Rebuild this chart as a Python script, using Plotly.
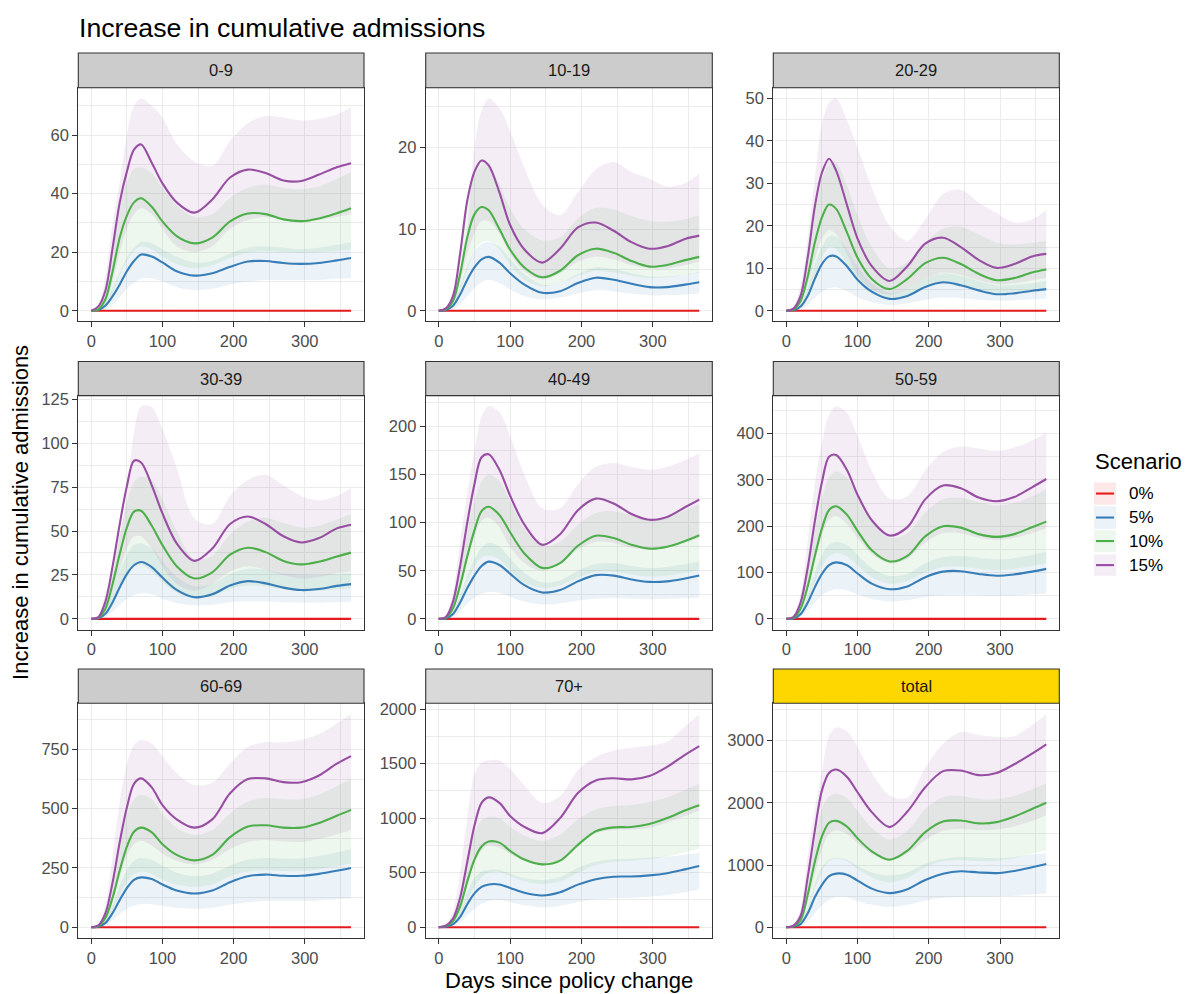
import plotly.graph_objects as go

# ---------------------------------------------------------------------------
# Data: increase in cumulative admissions by age group and scenario
# (median line plus lower / upper interval), sampled at these days
# ---------------------------------------------------------------------------
days = [0, 10, 20, 30, 40, 50, 60, 70, 85, 100, 120, 145, 170, 195, 220, 245, 270, 295, 320, 345, 365]

scenarios = ["0%", "5%", "10%", "15%"]
age_groups = ["0-9", "10-19", "20-29", "30-39", "40-49", "50-59", "60-69", "70+", "total"]

baseline_0pct = [0, 0, 0, 0, 0, 0, 0, 0, 0, 0, 0, 0, 0, 0, 0, 0, 0, 0, 0, 0, 0]

mid_0_9 = {
    "5%":  [0, 0.3, 1.8, 5, 9, 13.5, 17, 19.2, 18.5, 16.5, 13.5, 12, 12.8, 15, 16.8, 17, 16.3, 16, 16.3, 17.2, 18],
    "10%": [0, 0.5, 4, 13.5, 25, 32.5, 37, 38.4, 35.5, 30.5, 25.5, 23, 25, 30.5, 33.2, 33, 31.2, 30.6, 31.5, 33.3, 35],
    "15%": [0, 1.5, 7, 21.5, 37, 47.5, 55, 56.8, 50.5, 43.5, 37, 33.5, 38, 45.5, 48.2, 47, 44.5, 44.3, 46.5, 49, 50.4],
}
lo_0_9 = {
    "5%":  [0, 0, 0.5, 2, 4.5, 7.5, 9.5, 11, 11, 10, 8, 7, 7.5, 9, 10, 10.5, 10.5, 10.5, 10.5, 11, 11],
    "10%": [0, 0, 1.8, 6, 12, 17, 20.5, 22, 21, 18.5, 16, 14.5, 15.5, 18, 19.8, 20.3, 20, 19.8, 20, 20.5, 21],
    "15%": [0, 1, 3, 10, 20, 28, 33, 35, 33, 28, 22, 20, 22, 28, 31, 32, 31, 30, 31, 32, 33],
}
hi_0_9 = {
    "5%":  [0, 0.5, 3, 8, 13, 18, 21.5, 23.5, 23, 21, 18.5, 16.5, 17, 19.5, 21.5, 22, 21.5, 21, 21.5, 22.5, 23.5],
    "10%": [0, 1, 6, 20, 35, 44, 48.5, 49, 47, 42, 36, 32, 33, 38.5, 42, 43, 42, 41.5, 42.5, 45, 47.5],
    "15%": [0, 2, 12, 30, 44, 60, 70, 72.5, 70, 66, 57, 51, 49.5, 58, 64, 66.5, 66, 65, 65.5, 67, 69.5],
}

mid_10_19 = {
    "5%":  [0, 0.1, 0.6, 2, 3.8, 5.3, 6.3, 6.6, 5.9, 4.6, 3.2, 2.2, 2.4, 3.4, 4.05, 3.8, 3.3, 2.9, 2.9, 3.2, 3.5],
    "10%": [0, 0.2, 1.2, 4.5, 9, 11.8, 12.7, 12.3, 10, 7.5, 5.3, 4.1, 4.9, 6.8, 7.6, 7.1, 6.1, 5.4, 5.6, 6.2, 6.6],
    "15%": [0, 0.3, 1.8, 7, 13.5, 17, 18.4, 17.8, 14.5, 10.5, 7.5, 5.9, 7.6, 10.2, 10.8, 9.8, 8.4, 7.6, 7.9, 8.8, 9.2],
}
lo_10_19 = {
    "5%":  [0, 0, 0.2, 0.8, 1.8, 2.8, 3.5, 3.8, 3.4, 2.6, 1.8, 1.4, 1.6, 2.1, 2.5, 2.4, 2.1, 1.9, 1.9, 2, 2.1],
    "10%": [0, 0, 0.6, 2.5, 5, 7.3, 8.4, 8.5, 7.5, 5.6, 3.8, 3, 3.4, 4.3, 4.9, 4.7, 4.3, 4, 4.1, 4.4, 4.7],
    "15%": [0, 0, 0.8, 3.5, 7, 9.5, 11, 11, 9.5, 7, 4.8, 3.8, 4.6, 6, 6.6, 6.3, 5.6, 5.2, 5.2, 5.6, 6],
}
hi_10_19 = {
    "5%":  [0, 0.2, 1, 3, 5.5, 7.3, 8.2, 8.4, 7.8, 6.3, 4.5, 3.2, 3.4, 4.5, 5.3, 5.1, 4.6, 4.2, 4.2, 4.4, 4.8],
    "10%": [0, 0.3, 2, 7, 13, 16.5, 17.8, 17.9, 15.5, 12.5, 10, 8.6, 9, 11.3, 12.6, 12.4, 11.6, 11, 10.9, 11.2, 11.7],
    "15%": [0, 0.5, 2.5, 4.5, 10, 20, 24.5, 26, 24.8, 22, 17.5, 13, 11.7, 14.5, 17.3, 18.2, 17, 16.2, 15.2, 15.6, 16.8],
}

mid_20_29 = {
    "5%":  [0, 0.1, 1, 3.5, 7.5, 11, 12.8, 12.8, 10.5, 7.3, 4.5, 2.8, 3.5, 5.6, 6.7, 6.0, 4.8, 3.9, 4.1, 4.7, 5.1],
    "10%": [0, 0.3, 2.3, 8, 16, 22, 25, 24, 18.5, 12.5, 7.5, 5.1, 7.5, 11.2, 12.5, 11, 8.7, 7.2, 7.7, 9, 9.7],
    "15%": [0, 0.5, 3.5, 12.5, 24.5, 32.5, 35.8, 33, 25, 17, 10.5, 7, 10.5, 15.8, 17.2, 15, 12, 10.1, 11, 12.8, 13.4],
}
lo_20_29 = {
    "5%":  [0, 0, 0.3, 1.5, 3, 4.5, 5.3, 5.5, 4.6, 3.2, 2, 1.4, 1.7, 2.6, 3.1, 3, 2.6, 2.4, 2.5, 2.7, 2.9],
    "10%": [0, 0, 1, 3.5, 8, 12.5, 15, 14.5, 11, 7, 4, 2.8, 3.8, 5.6, 6.5, 6, 5, 4.3, 4.5, 5, 5.4],
    "15%": [0, 0, 1.5, 6, 12, 17, 19, 18, 13.5, 8.5, 5, 3.8, 5, 7.5, 9, 8.5, 7.2, 6.3, 6.5, 7.2, 7.7],
}
hi_20_29 = {
    "5%":  [0, 0.2, 1.5, 5.5, 11, 15, 17.5, 17.5, 14.5, 10.5, 6.5, 4.3, 5, 7.5, 8.8, 8.2, 7, 6, 6.1, 6.5, 7],
    "10%": [0, 0.5, 4, 12, 23, 31, 34.5, 34.8, 29.5, 22.5, 15, 10, 11.5, 16, 19.3, 19.8, 18, 16, 15.6, 16, 16.5],
    "15%": [0, 1, 6, 17, 31, 44, 49, 50, 45, 38.5, 29, 20, 16.5, 21.5, 27.5, 28.5, 25.5, 23, 20.8, 21.5, 23.8],
}

mid_30_39 = {
    "5%":  [0, 0.3, 3, 9.5, 18, 25.5, 30.5, 32.4, 29.5, 23.5, 16.5, 12.3, 14, 19, 21.5, 20.2, 17.8, 16.4, 17, 18.8, 19.8],
    "10%": [0, 0.6, 6, 20, 37, 52, 61, 61.5, 53, 42, 30, 23, 26.5, 36.5, 40.5, 38, 33, 31, 32.5, 35.5, 37.7],
    "15%": [0, 1, 10, 30, 54, 75.5, 90, 89, 76, 60, 43, 33, 40, 54, 58.3, 54, 47, 43.5, 46, 51.5, 53.6],
}
lo_30_39 = {
    "5%":  [0, 0, 1, 4, 8, 11.5, 13.5, 14.5, 14, 11.5, 9, 7.7, 8, 9.5, 10, 10, 9.5, 9.3, 9.3, 9.6, 9.8],
    "10%": [0, 0.2, 3, 10, 19, 26, 30, 30.5, 27, 21, 15, 12, 13, 17, 19, 18.5, 16.8, 15.8, 16, 17, 17.5],
    "15%": [0, 0.3, 4, 15, 28, 40, 47, 47, 40, 30, 20, 16, 20, 27, 30, 28, 25, 23, 24, 26, 27],
}
hi_30_39 = {
    "5%":  [0, 0.5, 5, 15, 27, 36, 42, 43, 40, 33, 24, 18.5, 20, 25.5, 28.5, 28, 26, 25, 25, 25.5, 26],
    "10%": [0, 1, 9, 27, 48, 66, 78, 81, 79, 68, 50, 34, 36, 48, 55.5, 57.5, 54.5, 52, 53, 56.5, 59.7],
    "15%": [0, 2, 15, 25, 48, 70, 106, 121, 120.5, 108, 86, 57, 54, 70, 79, 82, 76, 70, 67.5, 70, 74.5],
}

mid_40_49 = {
    "5%":  [0, 0.5, 5, 17, 32, 45, 55, 59.5, 56, 47, 35, 27.5, 30, 39, 45.5, 45, 41, 38.5, 39, 42, 45],
    "10%": [0, 1, 11, 35, 65, 92, 112, 116.5, 108, 90, 68, 53, 58, 76, 86.5, 84, 77, 73, 75, 81, 87],
    "15%": [0, 2, 18, 55, 100, 140, 168, 171, 155, 128, 98, 77, 88, 113, 125, 120, 109, 103, 106, 116, 124],
}
lo_40_49 = {
    "5%":  [0, 0.2, 2, 8, 16, 22, 26, 28, 27, 23, 18, 15, 16, 19, 21, 21.5, 21, 20.5, 21, 21.5, 22],
    "10%": [0, 0.5, 6, 20, 38, 54, 64, 66, 62, 50, 38, 32, 35, 43, 49, 49, 46, 44, 45, 48, 51],
    "15%": [0, 1, 10, 30, 60, 85, 102, 105, 95, 75, 58, 50, 58, 72, 80, 79, 74, 72, 74, 79, 84],
}
hi_40_49 = {
    "5%":  [0, 1, 8, 25, 45, 62, 74, 79, 75, 63, 48, 38, 40, 50, 57, 58, 55, 53, 54, 57, 60],
    "10%": [0, 2, 16, 50, 90, 122, 143, 150, 143, 122, 94, 76, 80, 98, 110, 112, 108, 104, 106, 113, 120],
    "15%": [0, 3, 28, 80, 130, 175, 210, 221, 215, 190, 150, 115, 115, 140, 158, 162, 158, 155, 158, 165, 172],
}

mid_50_59 = {
    "5%":  [0, 1, 10, 35, 68, 97, 116, 122, 116, 98, 76, 64, 70, 90, 102, 103, 97, 93, 96, 102, 108],
    "10%": [0, 2, 22, 70, 135, 195, 235, 243, 225, 190, 148, 124, 136, 178, 200, 197, 183, 177, 183, 198, 210],
    "15%": [0, 4, 35, 110, 210, 295, 350, 354, 322, 268, 213, 180, 198, 258, 288, 282, 262, 254, 263, 284, 302],
}
lo_50_59 = {
    "5%":  [0, 0.5, 5, 18, 35, 50, 60, 64, 62, 53, 43, 38, 40, 47, 51, 52, 51, 50, 51, 53, 55],
    "10%": [0, 1, 12, 40, 78, 113, 135, 142, 135, 115, 90, 76, 82, 100, 112, 113, 108, 105, 108, 114, 120],
    "15%": [0, 2, 20, 65, 125, 180, 215, 222, 205, 175, 140, 120, 130, 165, 185, 185, 175, 170, 175, 185, 195],
}
hi_50_59 = {
    "5%":  [0, 1.5, 16, 52, 100, 138, 160, 166, 160, 138, 110, 93, 97, 120, 133, 136, 132, 128, 131, 138, 145],
    "10%": [0, 3, 35, 105, 190, 260, 305, 318, 305, 265, 210, 175, 185, 230, 258, 262, 252, 245, 250, 265, 280],
    "15%": [0, 6, 55, 170, 290, 380, 440, 459, 445, 395, 320, 260, 265, 320, 360, 372, 368, 363, 370, 385, 402],
}

mid_60_69 = {
    "5%":  [0, 2, 18, 60, 115, 165, 200, 210, 203, 180, 155, 142, 155, 190, 215, 222, 217, 217, 225, 238, 250],
    "10%": [0, 5, 40, 125, 240, 340, 403, 420, 400, 350, 305, 282, 305, 380, 425, 430, 420, 420, 440, 470, 495],
    "15%": [0, 8, 60, 190, 360, 505, 605, 628, 590, 515, 455, 420, 455, 565, 625, 628, 612, 612, 640, 690, 722],
}
lo_60_69 = {
    "5%":  [0, 1, 8, 28, 55, 78, 92, 98, 97, 90, 82, 78, 82, 95, 105, 110, 110, 110, 113, 118, 122],
    "10%": [0, 3, 22, 70, 135, 190, 225, 235, 225, 200, 180, 170, 180, 215, 235, 240, 237, 237, 245, 258, 270],
    "15%": [0, 4, 35, 110, 210, 300, 350, 365, 345, 310, 280, 265, 285, 330, 360, 368, 362, 360, 372, 392, 410],
}
hi_60_69 = {
    "5%":  [0, 4, 30, 95, 175, 240, 280, 292, 285, 260, 230, 215, 225, 260, 285, 292, 290, 290, 300, 315, 330],
    "10%": [0, 7, 60, 190, 350, 475, 540, 558, 540, 480, 420, 390, 410, 480, 530, 545, 540, 540, 560, 595, 625],
    "15%": [0, 12, 95, 300, 530, 690, 770, 790, 775, 720, 650, 600, 610, 690, 760, 780, 780, 790, 815, 860, 900],
}

mid_70p = {
    "5%":  [0, 5, 28, 95, 210, 310, 370, 392, 392, 360, 315, 290, 320, 390, 440, 463, 465, 475, 495, 530, 560],
    "10%": [0, 10, 55, 190, 420, 620, 740, 785, 775, 700, 620, 576, 610, 755, 880, 915, 918, 945, 1000, 1070, 1117],
    "15%": [0, 15, 80, 270, 600, 930, 1140, 1190, 1140, 1020, 920, 862, 1000, 1230, 1345, 1365, 1355, 1385, 1470, 1580, 1660],
}
lo_70p = {
    "5%":  [0, 2, 12, 45, 110, 170, 215, 240, 250, 230, 200, 182, 195, 230, 255, 265, 270, 280, 295, 320, 347],
    "10%": [0, 5, 30, 100, 240, 370, 460, 500, 505, 470, 420, 395, 420, 500, 570, 600, 610, 625, 650, 690, 720],
    "15%": [0, 8, 50, 170, 380, 580, 700, 750, 730, 670, 610, 580, 620, 760, 860, 890, 895, 910, 960, 1020, 1070],
}
hi_70p = {
    "5%":  [0, 7, 45, 150, 320, 450, 510, 525, 525, 490, 450, 432, 460, 545, 600, 620, 628, 638, 648, 665, 680],
    "10%": [0, 13, 80, 280, 600, 870, 980, 1010, 1000, 920, 840, 790, 850, 990, 1080, 1110, 1120, 1150, 1190, 1260, 1315],
    "15%": [0, 20, 150, 500, 1000, 1400, 1510, 1530, 1530, 1450, 1300, 1140, 1200, 1440, 1560, 1620, 1645, 1665, 1700, 1840, 1955],
}

mid_total = {
    "5%":  [0, 8, 50, 220, 480, 680, 820, 862, 845, 750, 620, 548, 610, 760, 860, 900, 880, 870, 905, 965, 1015],
    "10%": [0, 15, 110, 520, 1050, 1460, 1680, 1710, 1620, 1430, 1220, 1085, 1230, 1530, 1700, 1715, 1670, 1690, 1780, 1900, 2000],
    "15%": [0, 25, 180, 800, 1550, 2200, 2480, 2535, 2420, 2170, 1850, 1610, 1860, 2250, 2510, 2520, 2445, 2480, 2620, 2790, 2940],
}
lo_total = {
    "5%":  [0, 3, 20, 90, 220, 350, 440, 485, 480, 420, 360, 325, 360, 430, 470, 485, 490, 495, 505, 525, 545],
    "10%": [0, 8, 60, 280, 620, 900, 1060, 1100, 1060, 940, 800, 720, 790, 960, 1060, 1080, 1060, 1070, 1110, 1180, 1240],
    "15%": [0, 12, 90, 400, 850, 1250, 1500, 1560, 1500, 1350, 1180, 1080, 1180, 1400, 1550, 1580, 1560, 1570, 1620, 1710, 1800],
}
hi_total = {
    "5%":  [0, 12, 80, 330, 700, 960, 1090, 1115, 1090, 990, 880, 830, 880, 1020, 1100, 1130, 1120, 1110, 1130, 1170, 1190],
    "10%": [0, 20, 160, 700, 1400, 1900, 2100, 2150, 2080, 1870, 1600, 1410, 1550, 1900, 2090, 2110, 2060, 2060, 2110, 2220, 2310],
    "15%": [0, 40, 300, 1150, 1900, 2500, 3080, 3210, 3150, 2900, 2480, 2120, 2080, 2560, 2950, 3140, 3090, 3060, 3070, 3250, 3430],
}

panel_data = {
    "0-9": (mid_0_9, lo_0_9, hi_0_9),
    "10-19": (mid_10_19, lo_10_19, hi_10_19),
    "20-29": (mid_20_29, lo_20_29, hi_20_29),
    "30-39": (mid_30_39, lo_30_39, hi_30_39),
    "40-49": (mid_40_49, lo_40_49, hi_40_49),
    "50-59": (mid_50_59, lo_50_59, hi_50_59),
    "60-69": (mid_60_69, lo_60_69, hi_60_69),
    "70+": (mid_70p, lo_70p, hi_70p),
    "total": (mid_total, lo_total, hi_total),
}

# ---------------------------------------------------------------------------
# Styling
# ---------------------------------------------------------------------------
W, H = 1190, 994
FONT = "Liberation Sans, Arial, sans-serif"

line_colors = {"0%": "#E41A1C", "5%": "#377EB8", "10%": "#4DAF4A", "15%": "#984EA3"}
band_colors = {"0%": "rgba(228,26,28,0.1)", "5%": "rgba(55,126,184,0.1)",
               "10%": "rgba(77,175,74,0.1)", "15%": "rgba(152,78,163,0.1)"}

y_dtick = {"0-9": 20, "10-19": 10, "20-29": 10, "30-39": 25, "40-49": 50,
           "50-59": 100, "60-69": 250, "70+": 500, "total": 1000}
strip_fill = {"70+": "#D9D9D9", "total": "#FFD700"}

# panel positions in pixels
col_px = [(78.3, 364.0), (425.7, 712.3), (773.3, 1059.3)]
row_px = [(82.3, 317.3), (392.0, 627.3), (701.5, 937.5)]
strip_px = [(47.3, 82.3), (357.7, 392.0), (667.0, 701.5)]


def px_x(x):
    return x / W


def px_y(y):
    return 1 - y / H


fig = go.Figure()
layout_axes = {}
shapes = []
annotations = []

for i, grp in enumerate(age_groups):
    r, c = divmod(i, 3)
    k = "" if i == 0 else str(i + 1)
    xa, ya = "x" + k, "y" + k
    mid, lo, hi = panel_data[grp]

    # ribbons
    for sc in ["5%", "10%", "15%"]:
        fig.add_trace(go.Scatter(x=days, y=lo[sc], xaxis=xa, yaxis=ya, mode="lines",
                                 line=dict(width=0, shape="spline", smoothing=0.9),
                                 hoverinfo="skip", showlegend=False))
        fig.add_trace(go.Scatter(x=days, y=hi[sc], xaxis=xa, yaxis=ya, mode="lines",
                                 line=dict(width=0, shape="spline", smoothing=0.9),
                                 fill="tonexty", fillcolor=band_colors[sc],
                                 hoverinfo="skip", showlegend=False))
    # lines
    for sc in scenarios:
        yv = baseline_0pct if sc == "0%" else mid[sc]
        fig.add_trace(go.Scatter(x=days, y=yv, xaxis=xa, yaxis=ya, mode="lines",
                                 line=dict(color=line_colors[sc], width=2.1,
                                           shape="spline", smoothing=0.9),
                                 name=sc, showlegend=False))

    ymax = max(max(v) for v in hi.values())
    dt = y_dtick[grp]
    x0, x1 = col_px[c]
    y0, y1 = row_px[r]
    axis_common = dict(
        showline=True, mirror=True, linecolor="#333333", linewidth=1.1,
        showgrid=True, gridcolor="#EBEBEB", gridwidth=1.1,
        ticks="outside", ticklen=5, tickwidth=1.1, tickcolor="#333333",
        tickfont=dict(family=FONT, size=16.5, color="#4D4D4D"),
        zeroline=False,
    )
    layout_axes["xaxis" + k] = dict(
        axis_common, domain=[px_x(x0), px_x(x1)], anchor=ya,
        range=[-18.25, 383.25], dtick=100, tick0=0,
        minor=dict(dtick=50, tick0=0, showgrid=True, gridcolor="#EBEBEB", gridwidth=0.55, ticklen=0),
    )
    layout_axes["yaxis" + k] = dict(
        axis_common, domain=[px_y(y1), px_y(y0)], anchor=xa,
        range=[-0.05 * ymax, 1.05 * ymax], dtick=dt, tick0=0,
        minor=dict(dtick=dt / 2, tick0=0, showgrid=True, gridcolor="#EBEBEB", gridwidth=0.55, ticklen=0),
    )

    # facet strip
    s0, s1 = strip_px[r]
    shapes.append(dict(type="rect", xref="paper", yref="paper",
                       x0=px_x(x0), x1=px_x(x1), y0=px_y(s1), y1=px_y(s0),
                       fillcolor=strip_fill.get(grp, "#CCCCCC"),
                       line=dict(color="#333333", width=1.1), layer="above"))
    annotations.append(dict(text=grp, xref="paper", yref="paper",
                            x=px_x((x0 + x1) / 2), y=px_y((s0 + s1) / 2),
                            xanchor="center", yanchor="middle", showarrow=False,
                            font=dict(family=FONT, size=16.5, color="#1A1A1A")))

# titles
annotations.append(dict(text="Increase in cumulative admissions", xref="paper", yref="paper",
                        x=px_x(77), y=px_y(22), xanchor="left", yanchor="middle", showarrow=False,
                        font=dict(family=FONT, size=26.7, color="#000000")))
annotations.append(dict(text="Days since policy change", xref="paper", yref="paper",
                        x=px_x(568.5), y=px_y(980), xanchor="center", yanchor="middle", showarrow=False,
                        font=dict(family=FONT, size=22, color="#000000")))
annotations.append(dict(text="Increase in cumulative admissions", xref="paper", yref="paper",
                        x=px_x(21), y=px_y(510), xanchor="center", yanchor="middle", showarrow=False,
                        textangle=-90, font=dict(family=FONT, size=22, color="#000000")))

# legend
annotations.append(dict(text="Scenario", xref="paper", yref="paper",
                        x=px_x(1093), y=px_y(458), xanchor="left", yanchor="middle", showarrow=False,
                        font=dict(family=FONT, size=22, color="#000000")))
key_rows = [(479.3, 501.7), (503.3, 526.0), (527.3, 549.3), (551.7, 573.3)]
for sc, (k0, k1) in zip(scenarios, key_rows):
    shapes.append(dict(type="rect", xref="paper", yref="paper",
                       x0=px_x(1094), x1=px_x(1116), y0=px_y(k1), y1=px_y(k0),
                       fillcolor=band_colors[sc], line=dict(width=0)))
    ym = (k0 + k1) / 2
    shapes.append(dict(type="line", xref="paper", yref="paper",
                       x0=px_x(1096), x1=px_x(1114), y0=px_y(ym), y1=px_y(ym),
                       line=dict(color=line_colors[sc], width=2.1)))
    annotations.append(dict(text=sc, xref="paper", yref="paper",
                            x=px_x(1127), y=px_y(ym), xanchor="left", yanchor="middle", showarrow=False,
                            font=dict(family=FONT, size=17, color="#000000")))

fig.update_layout(
    width=W, height=H,
    margin=dict(l=0, r=0, t=0, b=0),
    paper_bgcolor="white", plot_bgcolor="white",
    font=dict(family=FONT),
    showlegend=False,
    shapes=shapes, annotations=annotations,
    **layout_axes,
)

fig.write_html("out.html")
